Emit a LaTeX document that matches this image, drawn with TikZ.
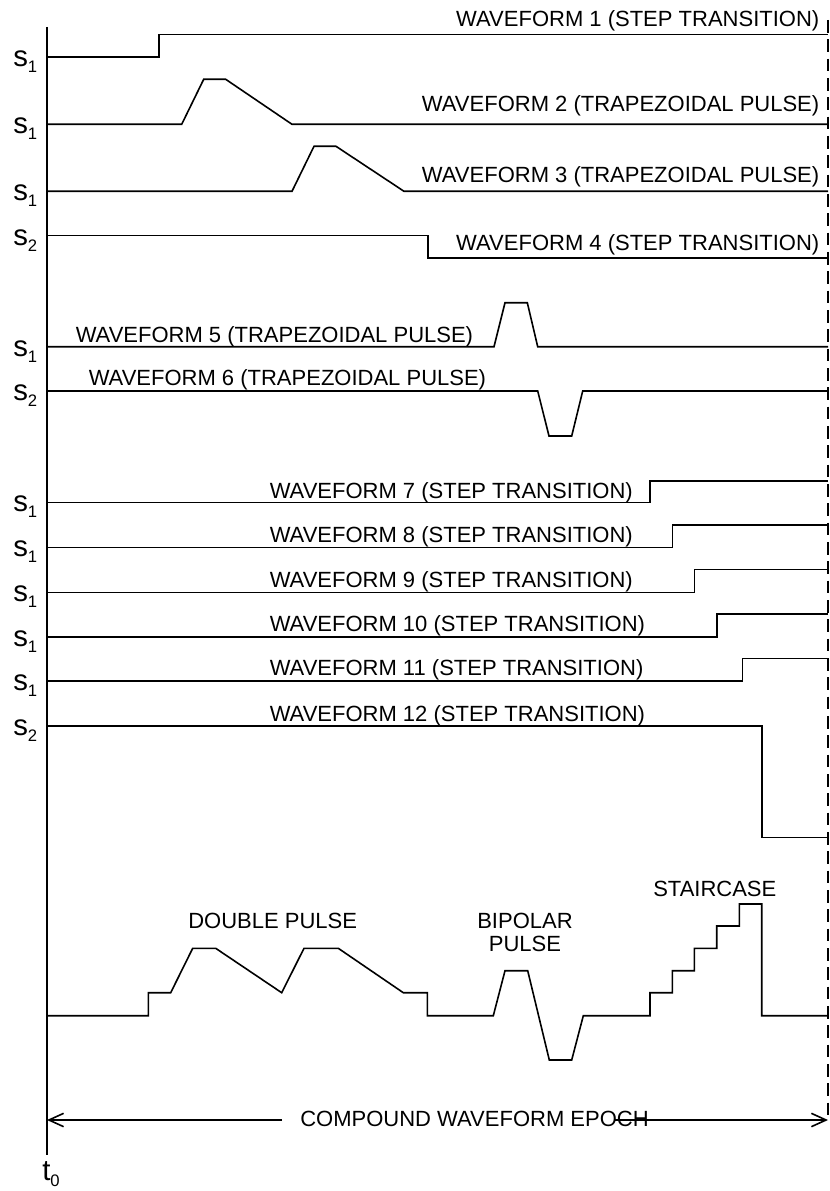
\documentclass[tikz,border=0pt]{standalone}
\usepackage{fontspec}
\setmainfont{Liberation Sans}
\usetikzlibrary{arrows.meta}

\newcommand{\lvlsub}[2]{#1\raisebox{-4.5pt}{\fontsize{12.5}{12.5}\selectfont #2}}

\begin{document}
\begin{tikzpicture}[x=0.75pt, y=-0.75pt,
  every node/.style={font=\fontsize{16.5}{14.5}\selectfont, inner sep=0pt},
  wave/.style={line width=1.2pt, line join=miter},
  axis/.style={line width=1.4pt},
  epochline/.style={line width=1.1pt, dash pattern=on 9.5pt off 5pt},
  lvl/.style={anchor=base west, font=\fontsize{22}{22}\selectfont},
  lbl/.style={anchor=base west},
  lbr/.style={anchor=base east},
  ar/.style={line width=1.2pt, -{Straight Barb[length=11pt, width=10pt]}},
]
\useasboundingbox (0,0) rectangle (830,1191);

% Time axis and end of epoch
\coordinate (t0top) at (47,27);
\coordinate (t0bot) at (47,1155);
\coordinate (endtop) at (828,20);
\coordinate (endbot) at (828,1120);
\draw[axis] (t0top) -- (t0bot);
\draw[epochline] (endtop) -- (endbot);
\node[lvl] (t0) at (42,1180) {\lvlsub{t}{0}};

% Waveforms 1 - 4
\draw[wave] (47,57.3) -- (159,57.3) -- (159,34.7) -- (828,34.7);
\draw[wave] (47,124.3) -- (181.7,124.3) -- (203.7,79.3) -- (225.7,79.3) -- (292,124.3) -- (828,124.3);
\draw[wave] (47,191.3) -- (292,191.3) -- (314,146.3) -- (336,146.3) -- (404,191.3) -- (828,191.3);
\draw[wave] (47,235.7) -- (428,235.7) -- (428,258) -- (828,258);
\node[lbr] (w1) at (819.5,27) {WAVEFORM 1 (STEP TRANSITION)};
\node[lbr] (w2) at (819.5,112) {WAVEFORM 2 (TRAPEZOIDAL PULSE)};
\node[lbr] (w3) at (819.5,182.5) {WAVEFORM 3 (TRAPEZOIDAL PULSE)};
\node[lbr] (w4) at (819.5,250.5) {WAVEFORM 4 (STEP TRANSITION)};
\node[lvl] (lv1) at (13,66.8) {\lvlsub{s}{1}};
\node[lvl] (lv2) at (13,133.8) {\lvlsub{s}{1}};
\node[lvl] (lv3) at (13,200.8) {\lvlsub{s}{1}};
\node[lvl] (lv4) at (13,245.2) {\lvlsub{s}{2}};

% Waveforms 5 - 6
\draw[wave] (47,346.7) -- (494,346.7) -- (505,302.7) -- (527.3,302.7) -- (537.7,346.7) -- (828,346.7);
\draw[wave] (47,391) -- (537.7,391) -- (549,436) -- (571.7,436) -- (582.7,391) -- (828,391);
\node[lbl] (w5) at (75.5,342.5) {WAVEFORM 5 (TRAPEZOIDAL PULSE)};
\node[lbl] (w6) at (88.5,385.5) {WAVEFORM 6 (TRAPEZOIDAL PULSE)};
\node[lvl] (lv5) at (13,356.2) {\lvlsub{s}{1}};
\node[lvl] (lv6) at (13,400.5) {\lvlsub{s}{2}};

% Waveforms 7 - 12
\draw[wave] (47,502.3) -- (650,502.3) -- (650,481) -- (828,481);
\draw[wave] (47,547.3) -- (672.3,547.3) -- (672.3,525) -- (828,525);
\draw[wave] (47,592.3) -- (694.3,592.3) -- (694.3,569.3) -- (828,569.3);
\draw[wave] (47,636.7) -- (716.7,636.7) -- (716.7,614) -- (828,614);
\draw[wave] (47,680.7) -- (742.3,680.7) -- (742.3,658.3) -- (828,658.3);
\draw[wave] (47,725.7) -- (761.7,725.7) -- (761.7,837.3) -- (828,837.3);
\node[lbl] (w7) at (269.5,498) {WAVEFORM 7 (STEP TRANSITION)};
\node[lbl] (w8) at (269.5,542) {WAVEFORM 8 (STEP TRANSITION)};
\node[lbl] (w9) at (269.5,587) {WAVEFORM 9 (STEP TRANSITION)};
\node[lbl] (w10) at (269.5,631.5) {WAVEFORM 10 (STEP TRANSITION)};
\node[lbl] (w11) at (269.5,675.5) {WAVEFORM 11 (STEP TRANSITION)};
\node[lbl] (w12) at (269.5,721) {WAVEFORM 12 (STEP TRANSITION)};
\node[lvl] (lv7) at (13,511.8) {\lvlsub{s}{1}};
\node[lvl] (lv8) at (13,556.8) {\lvlsub{s}{1}};
\node[lvl] (lv9) at (13,601.8) {\lvlsub{s}{1}};
\node[lvl] (lv10) at (13,646.2) {\lvlsub{s}{1}};
\node[lvl] (lv11) at (13,690.2) {\lvlsub{s}{1}};
\node[lvl] (lv12) at (13,735.2) {\lvlsub{s}{2}};

% Compound waveform
\draw[wave] (47,1015.7) -- (148.3,1015.7) -- (148.3,992.7) -- (170.7,992.7) -- (192.7,948.3) -- (215.7,948.3)
  -- (281.7,992.7) -- (304,948.3) -- (338.3,948.3) -- (403.3,992.7) -- (427.3,992.7) -- (427.3,1015.7)
  -- (493.3,1015.7) -- (505,970.7) -- (527.7,970.7) -- (549.3,1060) -- (571.7,1060) -- (583.3,1015.7)
  -- (650,1015.7) -- (650,992.7) -- (672.3,992.7) -- (672.3,970.7) -- (694.3,970.7) -- (694.3,948.3)
  -- (716.7,948.3) -- (716.7,926) -- (739.3,926) -- (739.3,904) -- (761.7,904) -- (761.7,1015.7) -- (828,1015.7);
\node[lbl] (dbl) at (188,928) {DOUBLE PULSE};
\node[anchor=base] (bip1) at (525,928.5) {BIPOLAR};
\node[anchor=base] (bip2) at (525,951.5) {PULSE};
\node[lbl] (stair) at (653,896) {STAIRCASE};

% Epoch dimension
\node[anchor=base] (epoch) at (474.5,1126.7) {COMPOUND WAVEFORM EPOCH};
\coordinate (epl) at (282,1120);
\coordinate (epr) at (615,1120);
\draw[ar] (epl) -- (t0top |- endbot);
\draw[ar] (epr) -- (endbot);
\end{tikzpicture}
\end{document}
